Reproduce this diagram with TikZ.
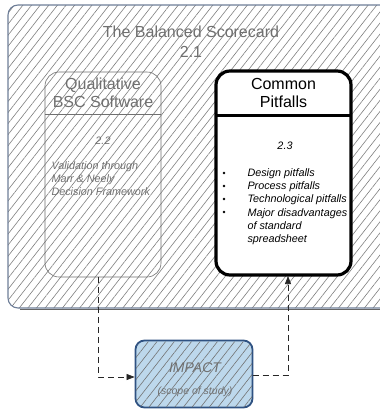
\documentclass[tikz,border=0pt]{standalone}
\usepackage{fontspec}
\setmainfont{Liberation Sans}
\usetikzlibrary{patterns.meta,arrows.meta}
\definecolor{hatch}{HTML}{808080}
\definecolor{frameblue}{HTML}{6E7E98}
\definecolor{impactfill}{HTML}{BDD8EC}
\definecolor{impactedge}{HTML}{2F5282}
\definecolor{softgray}{HTML}{707070}
\tikzset{
  hatched/.style={pattern={Lines[angle=52,distance=6.8pt,line width=0.6pt]},pattern color=hatch},
  flow/.style={draw=black!85,line width=0.7pt,dash pattern=on 6pt off 4pt},
  tip/.style={-{Triangle[length=8pt,width=6pt]}},
  title/.style={font=\fontsize{16}{18.5}\selectfont,align=center},
  note/.style={font=\fontsize{10.8}{13.3}\selectfont\itshape,align=left},
}
\begin{document}
\begin{tikzpicture}[x=1pt,y=-1pt]
\useasboundingbox (0,0) rectangle (380,410);
\begin{scope}
\clip (0,0) rectangle (380,410);
% outer frame: the balanced scorecard
\fill[white] (8,5) [rounded corners=10pt] rectangle (400,308);
\path[hatched] (8,5) [rounded corners=10pt] rectangle (400,308);
\draw[frameblue,line width=1.1pt,rounded corners=10pt] (8,5) rectangle (400,308);
\draw[black!60,line width=0.5pt] (20,309.5) -- (400,309.5);
\end{scope}
\node[title,text=softgray] (bsc) at (191,32) {The Balanced Scorecard};
\node[title,text=softgray] (bscnum) at (191,52) {2.1};

% left box: qualitative BSC software
\draw[softgray,line width=0.6pt,rounded corners=14pt] (45,72) rectangle (161,277);
\draw[softgray,line width=0.6pt] (45,114) -- (161,114);
\node[title,text=softgray] (qual) at (103,93) {Qualitative\\BSC Software};
\node[note,text=softgray] (qnum) at (103,141) {2.2};
\node[note,text=softgray,anchor=north west] (qtext) at (48,158) {Validation through\\Marr \& Neely\\Decision Framework};

% right box: common pitfalls
\draw[fill=white,line width=3.2pt,rounded corners=14pt] (216,71) rectangle (351,275);
\draw[line width=3pt] (216,115) -- (351,115);
\node[title] (pit) at (283.5,93) {Common\\Pitfalls};
\node[note] (pnum) at (285,146) {2.3};
\node[note,anchor=north west] (ptext) at (244,165) {Design pitfalls\\Process pitfalls\\Technological pitfalls\\Major disadvantages\\of standard\\spreadsheet};
\foreach \y in {173,186,199,212}
  \fill (224,\y) circle (1.3pt);

% impact box
\node[draw=impactedge,fill=impactfill,line width=1.8pt,rounded corners=9pt,
      minimum width=117pt,minimum height=67pt,inner sep=0pt] (impact) at (194,374) {};
\path[hatched,pattern color=black!55,rounded corners=8pt] (136,341.5) rectangle (252,407);
\node[font=\fontsize{14}{16}\selectfont\itshape,text=softgray] (imp) at (195,368) {IMPACT};
\node[font=\fontsize{10.5}{12}\selectfont\itshape,text=softgray] (scope) at (195,392) {(scope of study)};

% flows
\coordinate (lbot) at (98,277);
\coordinate (lturn) at (98,377);
\draw[flow,tip] (lbot) -- (lturn) -- (lturn -| impact.west);
\coordinate (rstart) at (252.5,375);
\coordinate (rturn) at (288,375);
\draw[flow,tip] (rstart) -- (rturn) -- (288,276);
\end{tikzpicture}
\end{document}
